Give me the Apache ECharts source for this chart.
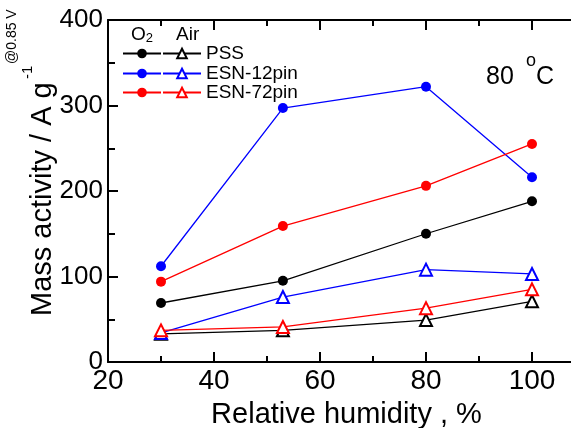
<!DOCTYPE html>
<html><head><meta charset="utf-8">
<script src="https://cdn.jsdelivr.net/npm/echarts@6/dist/echarts.min.js"></script>
<style>html,body{margin:0;padding:0;background:#fff;overflow:hidden}#c{width:585px;height:428px}</style>
</head><body><div id="c"></div>
<script>
// Data
const humidity = [30, 53, 80, 100];
const pssO2 = [69, 95, 150, 188];
const esn12O2 = [112, 297, 322, 216];
const esn72O2 = [94, 159, 206, 255];
const pssAir = [33, 37, 49, 71];
const esn12Air = [34, 76, 108, 103];
const esn72Air = [37, 41, 63, 85];
const sampleNames = ['PSS', 'ESN-12pin', 'ESN-72pin'];
const colors = ['#000000', '#0000ff', '#ff0000'];
const xTickLabels = [20, 40, 60, 80, 100];
const yTickLabels = [0, 100, 200, 300, 400];

const FONT = "'Liberation Sans', Arial, sans-serif";
const pair = (arr) => humidity.map((h, i) => [h, arr[i]]);
const o2Sets = [pssO2, esn12O2, esn72O2];
const airSets = [pssAir, esn12Air, esn72Air];

const series = [];
sampleNames.forEach((n, i) => {
  series.push({
    name: n + ' O2', type: 'line', data: pair(o2Sets[i]),
    symbol: 'circle', symbolSize: 10, color: colors[i],
    lineStyle: {width: 1.3, color: colors[i]}, itemStyle: {color: colors[i]}, z: 3
  });
});
sampleNames.forEach((n, i) => {
  series.push({
    name: n, type: 'line', data: pair(airSets[i]),
    symbol: 'emptyTriangle', symbolSize: 12, color: colors[i],
    lineStyle: {width: 1.3, color: colors[i]},
    itemStyle: {color: colors[i], borderColor: colors[i], borderWidth: 1.5}, z: 2
  });
});

const axisCommon = {
  type: 'value', min: 20, max: 110, interval: 20,
  axisLine: {show: true, lineStyle: {color: '#000', width: 2}},
  axisTick: {show: true, inside: true, length: 10, lineStyle: {color: '#000', width: 2}},
  minorTick: {show: true, splitNumber: 2, length: 6, lineStyle: {color: '#000', width: 2}},
  splitLine: {show: false}
};

const rowTops = [44, 64, 83];
const legends = sampleNames.map((n, i) => ({
  data: [n + ' O2', n],
  orient: 'horizontal', left: 122, top: rowTops[i], padding: 0,
  itemWidth: 38, itemHeight: 12, itemGap: 0, itemTextGap: 5,
  formatter: name => (name.slice(-3) === ' O2' ? '' : name),
  textStyle: {fontSize: 19, color: '#000', fontFamily: FONT},
  selectedMode: false
}));

const chart = echarts.init(document.getElementById('c'), null, {renderer: 'canvas'});
chart.setOption({
  animation: false,
  backgroundColor: '#fff',
  textStyle: {fontFamily: FONT},
  grid: {left: 108, top: 20, right: 0, bottom: 66, containLabel: false, outerBoundsMode: 'none'},
  xAxis: [
    Object.assign({}, axisCommon, {
      position: 'bottom',
      axisLabel: {show: true, fontSize: 28, color: '#000', fontFamily: FONT, margin: 5,
        formatter: v => (xTickLabels.indexOf(v) >= 0 ? String(v) : '')},
      name: 'Relative humidity , %', nameLocation: 'middle', nameGap: 38,
      nameTextStyle: {fontSize: 29, color: '#000', fontFamily: FONT}
    }),
    Object.assign({}, axisCommon, {
      position: 'top', axisLabel: {show: false}
    })
  ],
  yAxis: {
    type: 'value', min: 0, max: 400, interval: 100,
    axisLine: {show: true, lineStyle: {color: '#000', width: 2}},
    axisTick: {show: true, inside: true, length: 10, lineStyle: {color: '#000', width: 2}},
    minorTick: {show: true, splitNumber: 2, length: 7, lineStyle: {color: '#000', width: 2}},
    splitLine: {show: false},
    axisLabel: {fontSize: 26, color: '#000', fontFamily: FONT, margin: 5,
      formatter: v => (yTickLabels.indexOf(v) >= 0 ? String(v) : '')}
  },
  legend: legends,
  graphic: [
    // legend header
    {type: 'text', left: 131, top: 25, style: {text: '{a|O}{b|2}', fill: '#000',
      rich: {a: {fontSize: 19, fontFamily: FONT, fill: '#000'},
             b: {fontSize: 13, fontFamily: FONT, fill: '#000', verticalAlign: 'bottom', padding: [8, 0, 0, 0]}}}},
    {type: 'text', left: 176, top: 25, style: {text: 'Air', fontSize: 19, fontFamily: FONT, fill: '#000'}},
    // temperature label
    {type: 'text', x: 486, y: 65, style: {text: '80', fontSize: 25, fontFamily: FONT, fill: '#000', verticalAlign: 'alphabetic', align: 'left'}},
    {type: 'text', x: 526, y: 52, style: {text: 'o', fontSize: 18, fontFamily: FONT, fill: '#000', verticalAlign: 'alphabetic', align: 'left'}},
    {type: 'text', x: 536, y: 65, style: {text: 'C', fontSize: 25, fontFamily: FONT, fill: '#000', verticalAlign: 'alphabetic', align: 'left'}},
    // y axis title
    {type: 'text', x: 43, y: 316, rotation: Math.PI / 2,
      style: {text: 'Mass activity / A g', fontSize: 29, fontFamily: FONT, fill: '#000', align: 'left', verticalAlign: 'middle'}},
    {type: 'text', x: 28, y: 79, rotation: Math.PI / 2,
      style: {text: '-1', fontSize: 15, fontFamily: FONT, fill: '#000', align: 'left', verticalAlign: 'middle'}},
    {type: 'text', x: 12, y: 64, rotation: Math.PI / 2,
      style: {text: '@0.85 V', fontSize: 14, fontFamily: FONT, fill: '#000', align: 'left', verticalAlign: 'middle'}}
  ],
  series: series
});
</script></body></html>
